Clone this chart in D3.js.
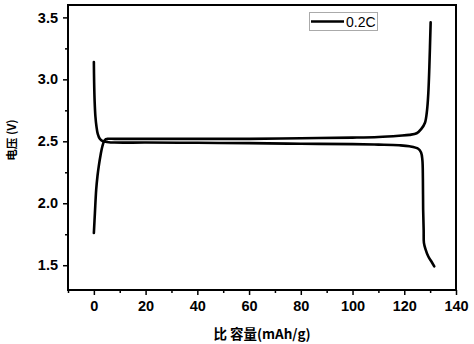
<!DOCTYPE html>
<meta charset="utf-8">
<style>
  body { margin: 0; background: #fff; }
  svg { font-family: "Liberation Sans", Arial, sans-serif; }
  .tick text { font-size: 14.5px; font-weight: bold; fill: #000; }
</style>
<svg width="474" height="344"></svg>
<script src="https://d3js.org/d3.v7.min.js"></script>
<script>
  // charge curve (capacity mAh/g, voltage V)
  var chargeCap = [0, 0.4, 0.9, 1.4, 1.9, 2.6, 3.3, 4.2, 5.5, 8, 20, 40, 60, 80, 100, 110, 118, 122, 124.8, 126.6, 128, 128.8, 129.3, 129.7, 130.2];
  var chargeV =   [1.76, 1.92, 2.11, 2.22, 2.3, 2.39, 2.46, 2.51, 2.52, 2.52, 2.52, 2.52, 2.52, 2.525, 2.53, 2.535, 2.545, 2.552, 2.565, 2.6, 2.65, 2.75, 2.89, 3.1, 3.46];
  // discharge curve
  var dischargeCap = [0, 0.1, 0.3, 0.6, 1.0, 1.5, 2.3, 3.5, 5, 8, 20, 40, 60, 80, 100, 110, 118, 122, 125.4, 126.5, 127, 127.2, 127.3, 127.5, 127.6, 128.2, 129.3, 130.5, 131.6];
  var dischargeV =   [3.14, 2.98, 2.82, 2.7, 2.62, 2.56, 2.52, 2.5, 2.495, 2.49, 2.49, 2.488, 2.485, 2.48, 2.477, 2.473, 2.468, 2.46, 2.44, 2.41, 2.35, 2.2, 1.95, 1.78, 1.68, 1.63, 1.57, 1.53, 1.49];
  var xTicks = [0, 20, 40, 60, 80, 100, 120, 140];
  var yTicks = [1.5, 2.0, 2.5, 3.0, 3.5];
  var legendLabel = "0.2C";

  var svg = d3.select("svg");
  var m = { left: 68, right: 456, top: 5, bottom: 290 };

  var x = d3.scaleLinear().domain([-10, 140]).range([m.left, m.right]);
  var y = d3.scaleLinear().domain([1.3, 3.6]).range([m.bottom, m.top]);

  // minor ticks
  var xMinor = d3.range(-10, 141, 20);
  var yMinor = [1.75, 2.25, 2.75, 3.25];

  svg.append("g")
    .attr("transform", "translate(0," + m.bottom + ")")
    .call(d3.axisBottom(x).tickValues(xMinor).tickSize(3).tickFormat(""))
    .call(function(g) { g.select(".domain").remove(); g.selectAll("line").attr("stroke-width", 1.5); });
  svg.append("g")
    .attr("transform", "translate(" + m.left + ",0)")
    .call(d3.axisLeft(y).tickValues(yMinor).tickSize(3).tickFormat(""))
    .call(function(g) { g.select(".domain").remove(); g.selectAll("line").attr("stroke-width", 1.5); });

  var xAxis = svg.append("g")
    .attr("transform", "translate(0," + m.bottom + ")")
    .call(d3.axisBottom(x).tickValues(xTicks).tickSize(5).tickPadding(6).tickFormat(d3.format("d")));
  xAxis.select(".domain").remove();
  xAxis.selectAll("line").attr("stroke-width", 1.5);

  var yAxis = svg.append("g")
    .attr("transform", "translate(" + m.left + ",0)")
    .call(d3.axisLeft(y).tickValues(yTicks).tickSize(5).tickPadding(5).tickFormat(d3.format(".1f")));
  yAxis.select(".domain").remove();
  yAxis.selectAll("line").attr("stroke-width", 1.5);

  // frame
  svg.append("rect")
    .attr("x", m.left).attr("y", m.top)
    .attr("width", m.right - m.left).attr("height", m.bottom - m.top)
    .attr("fill", "none").attr("stroke", "#000").attr("stroke-width", 2);

  var line = d3.line().curve(d3.curveCatmullRom.alpha(0.5))
    .x(function(d) { return x(d[0]); })
    .y(function(d) { return y(d[1]); });

  var charge = d3.zip(chargeCap, chargeV);
  var discharge = d3.zip(dischargeCap, dischargeV);

  [charge, discharge].forEach(function(data) {
    svg.append("path")
      .datum(data)
      .attr("d", line)
      .attr("fill", "none")
      .attr("stroke", "#000")
      .attr("stroke-width", 2.6)
      .attr("stroke-linejoin", "round")
      .attr("stroke-linecap", "round");
  });

  // legend
  var lg = svg.append("g");
  lg.append("rect")
    .attr("x", 309.5).attr("y", 12.5).attr("width", 68).attr("height", 18)
    .attr("fill", "#fff").attr("stroke", "#aaa").attr("stroke-width", 1);
  lg.append("line")
    .attr("x1", 311).attr("x2", 344).attr("y1", 21.5).attr("y2", 21.5)
    .attr("stroke", "#000").attr("stroke-width", 2.6);
  lg.append("text")
    .attr("x", 346).attr("y", 26.5)
    .attr("font-size", 14)
    .text(legendLabel);

  // axis titles
  svg.append("text")
    .attr("x", 262).attr("y", 339)
    .attr("text-anchor", "middle")
    .attr("font-size", 13.5).attr("font-weight", "bold")
    .attr("font-family", "'Noto Sans CJK SC', 'Liberation Sans', sans-serif")
    .text("比 容量(mAh/g)");
  svg.append("text")
    .attr("transform", "translate(16,140) rotate(-90)")
    .attr("text-anchor", "middle")
    .attr("font-size", 11.5).attr("font-weight", "bold")
    .attr("font-family", "'Noto Sans CJK SC', 'Liberation Sans', sans-serif")
    .text("电压 (V)");
</script>
